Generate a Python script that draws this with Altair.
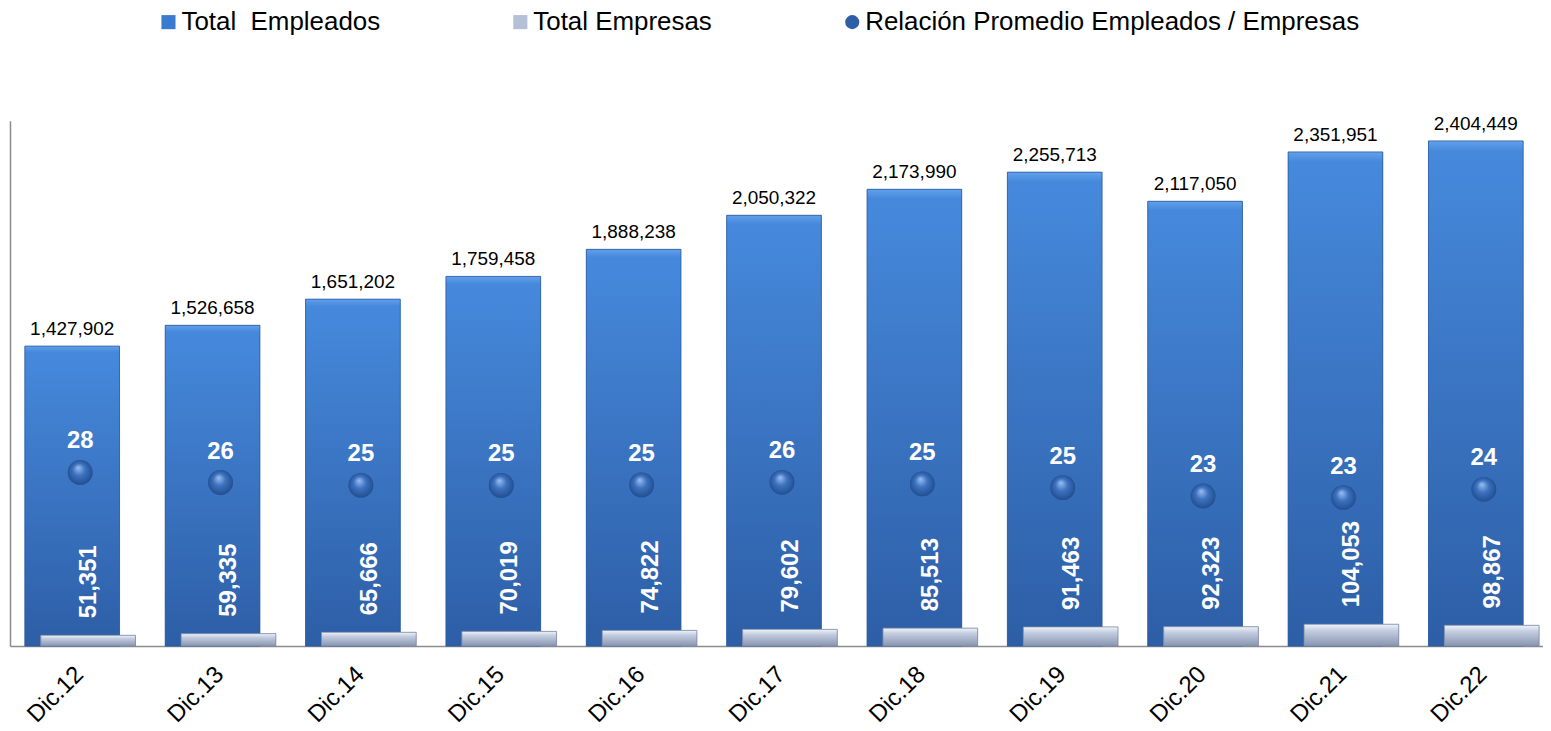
import altair as alt
import pandas as pd

categorias = ["Dic.12", "Dic.13", "Dic.14", "Dic.15", "Dic.16", "Dic.17",
              "Dic.18", "Dic.19", "Dic.20", "Dic.21", "Dic.22"]
total_empleados = [1427902, 1526658, 1651202, 1759458, 1888238, 2050322,
                   2173990, 2255713, 2117050, 2351951, 2404449]
total_empresas = [51351, 59335, 65666, 70019, 74822, 79602,
                  85513, 91463, 92323, 104053, 98867]

series = ["Total\u00a0 Empleados", "Total Empresas",
          "Relación Promedio Empleados / Empresas"]

df = pd.DataFrame({"cat": categorias, "emp": total_empleados, "empr": total_empresas})

FONT = "Liberation Sans"
AXIS_GREY = "#8c8c8c"

x_enc = alt.X(
    "cat:N", sort=categorias,
    scale=alt.Scale(range=[0, 1549], paddingInner=0, paddingOuter=0),
    axis=alt.Axis(title=None, labelAngle=-45, labelFontSize=24, labelFont=FONT,
                  labelColor="black", labelPadding=16, labelOffset=-9, ticks=False,
                  grid=False, domainColor=AXIS_GREY, domainWidth=1.5,
                  labelAlign="right", labelBaseline="top"),
)
y_cnt = alt.Y("emp:Q", scale=alt.Scale(domain=[0, 2500000], nice=False),
              axis=alt.Axis(title=None, labels=False, ticks=False, grid=False,
                            domainColor=AXIS_GREY, domainWidth=1.5))
y_empr = alt.Y("empr:Q", scale=alt.Scale(domain=[0, 2500000], nice=False),
               axis=alt.Axis(title=None, labels=False, ticks=False, grid=False,
                             domainColor=AXIS_GREY, domainWidth=1.5))
y_ratio = alt.Y("ratio:Q", scale=alt.Scale(domain=[-8.1, 100.5], nice=False, zero=False),
                axis=None)

color_scale = alt.Scale(domain=series, range=["#3a7bd0", "#b4c0d6", "#2c5fa8"])
shape_scale = alt.Scale(domain=series, range=["square", "square", "circle"])
legend = alt.Legend(title=None, orient="none", legendX=146, legendY=-112,
                    direction="horizontal", labelFontSize=26, labelFont=FONT,
                    labelColor="black", labelLimit=0, symbolSize=200,
                    columnPadding=127, labelOffset=0, padding=0,
                    symbolStrokeWidth=0)

grad_emp = {"gradient": "linear", "x1": 0, "x2": 0, "y1": 0, "y2": 1,
            "stops": [{"offset": 0, "color": "#62a0ea"},
                      {"offset": 0.02, "color": "#4689dc"},
                      {"offset": 1, "color": "#2d5ea6"}]}
grad_empr = {"gradient": "linear", "x1": 0, "x2": 0, "y1": 0, "y2": 1,
             "stops": [{"offset": 0, "color": "#f0f3f9"},
                       {"offset": 0.3, "color": "#c3cde0"},
                       {"offset": 1, "color": "#8795b0"}]}
grad_pt = {"gradient": "radial", "x1": 0.42, "y1": 0.3, "r1": 0,
           "x2": 0.5, "y2": 0.5, "r2": 0.55,
           "stops": [{"offset": 0, "color": "#9cc0f0"},
                     {"offset": 0.45, "color": "#3d72c0"},
                     {"offset": 1, "color": "#1e4a8a"}]}

base = alt.Chart(df)

emp_solid = base.transform_calculate(serie=f"'{series[0]}'").mark_bar(
    width=95, xOffset=-8).encode(
    x=x_enc, y=y_cnt,
    color=alt.Color("serie:N", scale=color_scale, legend=legend))
emp_grad = base.mark_bar(width=95, xOffset=-8, fill=grad_emp,
                         stroke="#2b5a9e", strokeWidth=0.8).encode(x=x_enc, y=y_cnt)

empr_solid = base.transform_calculate(serie=f"'{series[1]}'").mark_bar(
    width=95, xOffset=8).encode(
    x=x_enc, y=y_empr,
    color=alt.Color("serie:N", scale=color_scale, legend=legend))
empr_grad = base.mark_bar(width=95, xOffset=8, fill=grad_empr,
                          stroke="#7a88a4", strokeWidth=0.8).encode(x=x_enc, y=y_empr)

txt_emp = base.mark_text(xOffset=-8, dy=-11, baseline="alphabetic", fontSize=19,
                         font=FONT, color="black").encode(
    x=x_enc, y=y_cnt, text=alt.Text("emp:Q", format=",d"))
txt_empr = base.mark_text(xOffset=9, yOffset=-17, angle=270, align="left",
                          baseline="middle", fontSize=24, fontWeight="bold",
                          font=FONT, color="white").encode(
    x=x_enc, y=y_empr, text=alt.Text("empr:Q", format=",d"))

left = alt.layer(emp_solid, emp_grad, empr_solid, empr_grad, txt_emp, txt_empr)

rbase = base.transform_calculate(ratio="datum.emp / datum.empr")
pt_solid = rbase.transform_calculate(serie=f"'{series[2]}'").mark_point(
    filled=True, size=620, opacity=1).encode(
    x=x_enc, y=y_ratio,
    color=alt.Color("serie:N", scale=color_scale, legend=legend),
    shape=alt.Shape("serie:N", scale=shape_scale, legend=legend))
pt_grad = rbase.mark_point(filled=True, size=620, opacity=1, fill=grad_pt,
                           shape="circle").encode(x=x_enc, y=y_ratio)
txt_ratio = rbase.mark_text(yOffset=-31, baseline="middle", fontSize=24,
                            fontWeight="bold", font=FONT, color="white").encode(
    x=x_enc, y=y_ratio, text=alt.Text("ratio:Q", format=".0f"))

right = alt.layer(pt_solid, pt_grad, txt_ratio)

chart = alt.layer(left, right).resolve_scale(y="independent").properties(
    width=1538, height=527,
    background="white",
    autosize=alt.AutoSizeParams(type="none"),
    padding={"left": 2, "top": 112, "right": 0, "bottom": 84},
).configure_view(stroke=None, strokeWidth=0).configure_axis(grid=False)

chart.save("out.html", embed_options={"renderer": "svg", "actions": False})
